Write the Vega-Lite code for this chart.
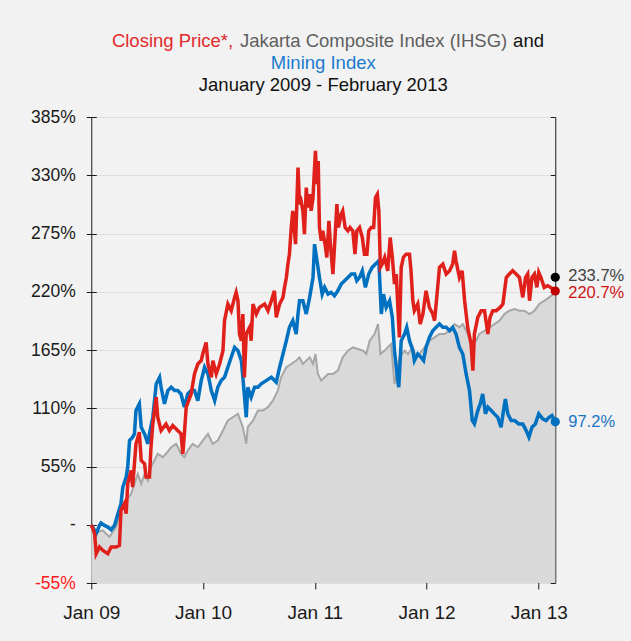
{
  "$schema": "https://vega.github.io/schema/vega-lite/v6.json",
  "background": "#f2f2f2",
  "padding": {"left": 30, "top": 31, "right": 12, "bottom": 24},
  "config": {
    "font": "Liberation Sans",
    "view": {"stroke": null},
    "title": {"fontWeight": "normal", "fontSize": 18.5, "anchor": "middle"}
  },
  "datasets": {
    "series": [
      {"d":"2009-01-01","s":"Price","v":0},{"d":"2009-01-12","s":"Price","v":-8.5},{"d":"2009-01-17","s":"Price","v":-27.4},{"d":"2009-01-28","s":"Price","v":-21.0},{"d":"2009-02-08","s":"Price","v":-24.2},{"d":"2009-02-24","s":"Price","v":-27.4},{"d":"2009-03-07","s":"Price","v":-21.0},{"d":"2009-03-23","s":"Price","v":-21.0},{"d":"2009-04-03","s":"Price","v":-19.5},{"d":"2009-04-08","s":"Price","v":13.5},{"d":"2009-04-19","s":"Price","v":19.8},{"d":"2009-04-25","s":"Price","v":10.4},{"d":"2009-04-30","s":"Price","v":38.7},{"d":"2009-05-11","s":"Price","v":51.3},{"d":"2009-05-16","s":"Price","v":35.5},{"d":"2009-05-27","s":"Price","v":76.4},{"d":"2009-06-07","s":"Price","v":87.4},{"d":"2009-06-13","s":"Price","v":60.7},{"d":"2009-06-24","s":"Price","v":57.5},{"d":"2009-06-29","s":"Price","v":45.0},{"d":"2009-07-10","s":"Price","v":45.0},{"d":"2009-07-15","s":"Price","v":73.2},{"d":"2009-07-21","s":"Price","v":95.2},{"d":"2009-08-01","s":"Price","v":120.4},{"d":"2009-08-06","s":"Price","v":101.5},{"d":"2009-08-17","s":"Price","v":89.0},{"d":"2009-09-02","s":"Price","v":95.2},{"d":"2009-09-13","s":"Price","v":89.0},{"d":"2009-09-24","s":"Price","v":93.7},{"d":"2009-10-10","s":"Price","v":89.0},{"d":"2009-10-21","s":"Price","v":85.8},{"d":"2009-10-27","s":"Price","v":67.0},{"d":"2009-11-01","s":"Price","v":85.8},{"d":"2009-11-07","s":"Price","v":111.0},{"d":"2009-11-23","s":"Price","v":123.5},{"d":"2009-12-04","s":"Price","v":142.4},{"d":"2009-12-15","s":"Price","v":151.8},{"d":"2009-12-26","s":"Price","v":155.0},{"d":"2009-12-31","s":"Price","v":161.2},
      {"d":"2010-01-11","s":"Price","v":172.2},{"d":"2010-01-17","s":"Price","v":151.8},{"d":"2010-01-28","s":"Price","v":139.2},{"d":"2010-02-02","s":"Price","v":155.0},{"d":"2010-02-13","s":"Price","v":142.4},{"d":"2010-02-24","s":"Price","v":151.8},{"d":"2010-03-07","s":"Price","v":164.4},{"d":"2010-03-12","s":"Price","v":192.7},{"d":"2010-03-23","s":"Price","v":208.4},{"d":"2010-04-03","s":"Price","v":202.1},{"d":"2010-04-14","s":"Price","v":214.7},{"d":"2010-04-19","s":"Price","v":219.4},{"d":"2010-04-25","s":"Price","v":211.5},{"d":"2010-04-30","s":"Price","v":180.1},{"d":"2010-05-06","s":"Price","v":173.8},{"d":"2010-05-11","s":"Price","v":199.0},{"d":"2010-05-16","s":"Price","v":139.2},{"d":"2010-05-22","s":"Price","v":180.1},{"d":"2010-06-02","s":"Price","v":186.4},{"d":"2010-06-07","s":"Price","v":173.8},{"d":"2010-06-13","s":"Price","v":208.4},{"d":"2010-06-24","s":"Price","v":199.0},{"d":"2010-07-04","s":"Price","v":205.2},{"d":"2010-07-21","s":"Price","v":208.4},{"d":"2010-08-01","s":"Price","v":202.1},{"d":"2010-08-12","s":"Price","v":211.5},{"d":"2010-08-22","s":"Price","v":220.9},{"d":"2010-08-28","s":"Price","v":195.8},{"d":"2010-09-08","s":"Price","v":208.4},{"d":"2010-09-19","s":"Price","v":214.7},{"d":"2010-09-24","s":"Price","v":224.1},{"d":"2010-09-30","s":"Price","v":233.5},{"d":"2010-10-05","s":"Price","v":246.1},{"d":"2010-10-10","s":"Price","v":255.5},{"d":"2010-10-16","s":"Price","v":280.7},{"d":"2010-10-21","s":"Price","v":296.4},{"d":"2010-10-30","s":"Price","v":265.0},{"d":"2010-11-07","s":"Price","v":337.2},{"d":"2010-11-12","s":"Price","v":302.7},{"d":"2010-11-17","s":"Price","v":305.8},{"d":"2010-11-23","s":"Price","v":296.4},{"d":"2010-11-28","s":"Price","v":274.4},{"d":"2010-12-04","s":"Price","v":318.4},{"d":"2010-12-09","s":"Price","v":299.5},{"d":"2010-12-15","s":"Price","v":312.1},{"d":"2010-12-20","s":"Price","v":296.4},{"d":"2010-12-26","s":"Price","v":309.0},{"d":"2010-12-31","s":"Price","v":337.2},
      {"d":"2011-01-03","s":"Price","v":353.0},{"d":"2011-01-08","s":"Price","v":321.5},{"d":"2011-01-12","s":"Price","v":343.5},{"d":"2011-01-16","s":"Price","v":280.7},{"d":"2011-01-22","s":"Price","v":268.1},{"d":"2011-01-27","s":"Price","v":277.5},{"d":"2011-02-05","s":"Price","v":261.8},{"d":"2011-02-09","s":"Price","v":252.4},{"d":"2011-02-16","s":"Price","v":286.9},{"d":"2011-02-20","s":"Price","v":268.1},{"d":"2011-03-01","s":"Price","v":236.7},{"d":"2011-03-06","s":"Price","v":261.8},{"d":"2011-03-14","s":"Price","v":302.7},{"d":"2011-03-19","s":"Price","v":280.7},{"d":"2011-03-28","s":"Price","v":293.2},{"d":"2011-04-02","s":"Price","v":296.4},{"d":"2011-04-10","s":"Price","v":280.7},{"d":"2011-04-19","s":"Price","v":277.5},{"d":"2011-04-26","s":"Price","v":280.7},{"d":"2011-05-05","s":"Price","v":277.5},{"d":"2011-05-12","s":"Price","v":255.5},{"d":"2011-05-18","s":"Price","v":277.5},{"d":"2011-05-27","s":"Price","v":280.7},{"d":"2011-06-05","s":"Price","v":271.2},{"d":"2011-06-12","s":"Price","v":255.5},{"d":"2011-06-20","s":"Price","v":255.5},{"d":"2011-06-26","s":"Price","v":277.5},{"d":"2011-07-04","s":"Price","v":280.7},{"d":"2011-07-12","s":"Price","v":280.7},{"d":"2011-07-18","s":"Price","v":309.0},{"d":"2011-07-24","s":"Price","v":312.1},{"d":"2011-07-29","s":"Price","v":296.4},{"d":"2011-08-03","s":"Price","v":243.0},{"d":"2011-08-09","s":"Price","v":246.1},{"d":"2011-08-17","s":"Price","v":252.4},{"d":"2011-08-27","s":"Price","v":239.8},{"d":"2011-09-04","s":"Price","v":271.2},{"d":"2011-09-11","s":"Price","v":252.4},{"d":"2011-09-18","s":"Price","v":227.2},{"d":"2011-09-24","s":"Price","v":236.7},{"d":"2011-09-29","s":"Price","v":205.2},{"d":"2011-10-04","s":"Price","v":176.9},{"d":"2011-10-10","s":"Price","v":243.0},{"d":"2011-10-17","s":"Price","v":252.4},{"d":"2011-10-26","s":"Price","v":255.5},{"d":"2011-11-06","s":"Price","v":255.5},{"d":"2011-11-11","s":"Price","v":239.8},{"d":"2011-11-17","s":"Price","v":211.5},{"d":"2011-11-22","s":"Price","v":202.1},{"d":"2011-12-03","s":"Price","v":208.4},{"d":"2011-12-11","s":"Price","v":189.5},{"d":"2011-12-20","s":"Price","v":199.0},{"d":"2011-12-30","s":"Price","v":220.9},
      {"d":"2012-01-10","s":"Price","v":205.2},{"d":"2012-01-21","s":"Price","v":199.0},{"d":"2012-01-27","s":"Price","v":192.7},{"d":"2012-02-06","s":"Price","v":224.1},{"d":"2012-02-12","s":"Price","v":243.0},{"d":"2012-02-23","s":"Price","v":246.1},{"d":"2012-03-05","s":"Price","v":236.7},{"d":"2012-03-16","s":"Price","v":239.8},{"d":"2012-03-26","s":"Price","v":246.1},{"d":"2012-04-01","s":"Price","v":258.7},{"d":"2012-04-06","s":"Price","v":249.2},{"d":"2012-04-17","s":"Price","v":233.5},{"d":"2012-04-26","s":"Price","v":239.8},{"d":"2012-05-04","s":"Price","v":211.5},{"d":"2012-05-14","s":"Price","v":186.4},{"d":"2012-05-25","s":"Price","v":170.7},{"d":"2012-05-31","s":"Price","v":145.5},{"d":"2012-06-05","s":"Price","v":180.1},{"d":"2012-06-16","s":"Price","v":195.8},{"d":"2012-06-27","s":"Price","v":202.1},{"d":"2012-07-08","s":"Price","v":202.1},{"d":"2012-07-19","s":"Price","v":180.1},{"d":"2012-07-26","s":"Price","v":195.8},{"d":"2012-08-04","s":"Price","v":202.1},{"d":"2012-08-15","s":"Price","v":202.1},{"d":"2012-08-28","s":"Price","v":205.2},{"d":"2012-09-06","s":"Price","v":208.4},{"d":"2012-09-17","s":"Price","v":233.5},{"d":"2012-09-27","s":"Price","v":236.7},{"d":"2012-10-08","s":"Price","v":239.8},{"d":"2012-10-19","s":"Price","v":236.7},{"d":"2012-10-30","s":"Price","v":233.5},{"d":"2012-11-10","s":"Price","v":214.7},{"d":"2012-11-19","s":"Price","v":233.5},{"d":"2012-11-26","s":"Price","v":236.7},{"d":"2012-12-02","s":"Price","v":211.5},{"d":"2012-12-10","s":"Price","v":233.5},{"d":"2012-12-18","s":"Price","v":236.7},{"d":"2012-12-26","s":"Price","v":224.1},{"d":"2013-01-01","s":"Price","v":238.2},{"d":"2013-01-08","s":"Price","v":233.5},{"d":"2013-01-19","s":"Price","v":224.1},{"d":"2013-01-30","s":"Price","v":225.7},{"d":"2013-02-09","s":"Price","v":224.1},{"d":"2013-02-24","s":"Price","v":220.7},

      {"d":"2009-01-01","s":"Mining","v":0},{"d":"2009-01-17","s":"Mining","v":-8.5},{"d":"2009-01-28","s":"Mining","v":-0.6},{"d":"2009-02-02","s":"Mining","v":1.6},{"d":"2009-02-13","s":"Mining","v":-0.6},{"d":"2009-02-24","s":"Mining","v":-2.2},{"d":"2009-03-07","s":"Mining","v":-4.7},{"d":"2009-03-18","s":"Mining","v":-0.6},{"d":"2009-03-29","s":"Mining","v":10.4},{"d":"2009-04-08","s":"Mining","v":19.8},{"d":"2009-04-14","s":"Mining","v":35.5},{"d":"2009-04-25","s":"Mining","v":45.0},{"d":"2009-04-30","s":"Mining","v":54.4},{"d":"2009-05-06","s":"Mining","v":79.5},{"d":"2009-05-16","s":"Mining","v":82.7},{"d":"2009-05-22","s":"Mining","v":85.8},{"d":"2009-05-27","s":"Mining","v":107.8},{"d":"2009-06-07","s":"Mining","v":114.1},{"d":"2009-06-13","s":"Mining","v":92.1},{"d":"2009-06-24","s":"Mining","v":85.8},{"d":"2009-07-05","s":"Mining","v":76.4},{"d":"2009-07-10","s":"Mining","v":85.8},{"d":"2009-07-21","s":"Mining","v":101.5},{"d":"2009-08-01","s":"Mining","v":133.0},{"d":"2009-08-12","s":"Mining","v":139.2},{"d":"2009-08-17","s":"Mining","v":129.8},{"d":"2009-08-28","s":"Mining","v":114.1},{"d":"2009-09-08","s":"Mining","v":126.7},{"d":"2009-09-19","s":"Mining","v":129.8},{"d":"2009-09-30","s":"Mining","v":126.7},{"d":"2009-10-10","s":"Mining","v":126.7},{"d":"2009-10-21","s":"Mining","v":123.5},{"d":"2009-11-01","s":"Mining","v":111.0},{"d":"2009-11-12","s":"Mining","v":123.5},{"d":"2009-11-23","s":"Mining","v":126.7},{"d":"2009-12-04","s":"Mining","v":126.7},{"d":"2009-12-15","s":"Mining","v":117.2},{"d":"2009-12-26","s":"Mining","v":136.1},
      {"d":"2010-01-06","s":"Mining","v":148.7},{"d":"2010-01-17","s":"Mining","v":142.4},{"d":"2010-01-28","s":"Mining","v":126.7},{"d":"2010-02-08","s":"Mining","v":117.2},{"d":"2010-02-18","s":"Mining","v":129.8},{"d":"2010-03-01","s":"Mining","v":136.1},{"d":"2010-03-12","s":"Mining","v":139.2},{"d":"2010-03-23","s":"Mining","v":148.7},{"d":"2010-04-03","s":"Mining","v":158.1},{"d":"2010-04-14","s":"Mining","v":167.5},{"d":"2010-04-25","s":"Mining","v":164.4},{"d":"2010-05-06","s":"Mining","v":155.0},{"d":"2010-05-11","s":"Mining","v":139.2},{"d":"2010-05-22","s":"Mining","v":101.5},{"d":"2010-05-27","s":"Mining","v":129.8},{"d":"2010-06-07","s":"Mining","v":120.4},{"d":"2010-06-18","s":"Mining","v":129.8},{"d":"2010-06-29","s":"Mining","v":129.8},{"d":"2010-07-10","s":"Mining","v":133.0},{"d":"2010-07-26","s":"Mining","v":136.1},{"d":"2010-08-12","s":"Mining","v":139.2},{"d":"2010-08-28","s":"Mining","v":134.5},{"d":"2010-09-08","s":"Mining","v":148.7},{"d":"2010-09-19","s":"Mining","v":161.2},{"d":"2010-09-30","s":"Mining","v":173.8},{"d":"2010-10-10","s":"Mining","v":186.4},{"d":"2010-10-21","s":"Mining","v":192.7},{"d":"2010-11-01","s":"Mining","v":180.1},{"d":"2010-11-07","s":"Mining","v":199.0},{"d":"2010-11-12","s":"Mining","v":211.5},{"d":"2010-11-23","s":"Mining","v":211.5},{"d":"2010-12-04","s":"Mining","v":199.0},{"d":"2010-12-15","s":"Mining","v":214.7},{"d":"2010-12-26","s":"Mining","v":233.5},{"d":"2010-12-31","s":"Mining","v":264.9},
      {"d":"2011-01-08","s":"Mining","v":249.2},{"d":"2011-01-16","s":"Mining","v":233.5},{"d":"2011-01-25","s":"Mining","v":217.8},{"d":"2011-02-02","s":"Mining","v":224.1},{"d":"2011-02-13","s":"Mining","v":217.8},{"d":"2011-02-23","s":"Mining","v":219.4},{"d":"2011-03-06","s":"Mining","v":216.2},{"d":"2011-03-17","s":"Mining","v":220.9},{"d":"2011-03-28","s":"Mining","v":227.2},{"d":"2011-04-08","s":"Mining","v":230.4},{"d":"2011-04-19","s":"Mining","v":233.5},{"d":"2011-04-30","s":"Mining","v":236.7},{"d":"2011-05-11","s":"Mining","v":236.7},{"d":"2011-05-18","s":"Mining","v":230.4},{"d":"2011-05-27","s":"Mining","v":233.5},{"d":"2011-06-05","s":"Mining","v":239.8},{"d":"2011-06-15","s":"Mining","v":224.1},{"d":"2011-06-26","s":"Mining","v":236.7},{"d":"2011-07-07","s":"Mining","v":243.0},{"d":"2011-07-18","s":"Mining","v":246.1},{"d":"2011-07-29","s":"Mining","v":249.2},{"d":"2011-08-06","s":"Mining","v":199.0},{"d":"2011-08-13","s":"Mining","v":217.8},{"d":"2011-08-22","s":"Mining","v":205.2},{"d":"2011-09-02","s":"Mining","v":211.5},{"d":"2011-09-11","s":"Mining","v":195.8},{"d":"2011-09-18","s":"Mining","v":164.4},{"d":"2011-09-26","s":"Mining","v":142.4},{"d":"2011-10-02","s":"Mining","v":129.8},{"d":"2011-10-10","s":"Mining","v":173.8},{"d":"2011-10-21","s":"Mining","v":180.1},{"d":"2011-10-28","s":"Mining","v":186.4},{"d":"2011-11-06","s":"Mining","v":173.8},{"d":"2011-11-17","s":"Mining","v":164.4},{"d":"2011-11-22","s":"Mining","v":155.0},{"d":"2011-12-03","s":"Mining","v":161.2},{"d":"2011-12-14","s":"Mining","v":158.1},{"d":"2011-12-22","s":"Mining","v":155.0},{"d":"2011-12-30","s":"Mining","v":167.5},
      {"d":"2012-01-10","s":"Mining","v":176.9},{"d":"2012-01-21","s":"Mining","v":183.2},{"d":"2012-02-01","s":"Mining","v":186.4},{"d":"2012-02-12","s":"Mining","v":189.5},{"d":"2012-02-23","s":"Mining","v":186.4},{"d":"2012-03-05","s":"Mining","v":186.4},{"d":"2012-03-16","s":"Mining","v":183.2},{"d":"2012-03-26","s":"Mining","v":186.4},{"d":"2012-04-06","s":"Mining","v":180.1},{"d":"2012-04-17","s":"Mining","v":167.5},{"d":"2012-04-28","s":"Mining","v":161.2},{"d":"2012-05-09","s":"Mining","v":142.4},{"d":"2012-05-20","s":"Mining","v":126.7},{"d":"2012-05-29","s":"Mining","v":98.4},{"d":"2012-06-05","s":"Mining","v":95.2},{"d":"2012-06-16","s":"Mining","v":107.8},{"d":"2012-06-24","s":"Mining","v":114.1},{"d":"2012-07-02","s":"Mining","v":123.5},{"d":"2012-07-11","s":"Mining","v":104.7},{"d":"2012-07-19","s":"Mining","v":111.0},{"d":"2012-07-30","s":"Mining","v":107.8},{"d":"2012-08-09","s":"Mining","v":104.7},{"d":"2012-08-20","s":"Mining","v":101.5},{"d":"2012-08-31","s":"Mining","v":92.1},{"d":"2012-09-08","s":"Mining","v":107.8},{"d":"2012-09-14","s":"Mining","v":118.8},{"d":"2012-09-22","s":"Mining","v":104.7},{"d":"2012-10-03","s":"Mining","v":98.4},{"d":"2012-10-14","s":"Mining","v":98.4},{"d":"2012-10-28","s":"Mining","v":95.2},{"d":"2012-11-10","s":"Mining","v":95.2},{"d":"2012-11-21","s":"Mining","v":88.9},{"d":"2012-11-30","s":"Mining","v":82.7},{"d":"2012-12-10","s":"Mining","v":92.1},{"d":"2012-12-21","s":"Mining","v":95.2},{"d":"2013-01-01","s":"Mining","v":104.7},{"d":"2013-01-14","s":"Mining","v":100.0},{"d":"2013-01-25","s":"Mining","v":98.4},{"d":"2013-02-04","s":"Mining","v":101.5},{"d":"2013-02-13","s":"Mining","v":103.1},{"d":"2013-02-24","s":"Mining","v":97.2},

      {"d":"2009-01-01","s":"IHSG","v":0},{"d":"2009-01-22","s":"IHSG","v":-6.9},{"d":"2009-02-08","s":"IHSG","v":-5.3},{"d":"2009-03-01","s":"IHSG","v":-11.6},{"d":"2009-03-12","s":"IHSG","v":-6.9},{"d":"2009-03-23","s":"IHSG","v":-2.2},{"d":"2009-04-08","s":"IHSG","v":13.5},{"d":"2009-04-25","s":"IHSG","v":22.9},{"d":"2009-05-11","s":"IHSG","v":29.2},{"d":"2009-05-22","s":"IHSG","v":38.7},{"d":"2009-06-02","s":"IHSG","v":48.1},{"d":"2009-06-13","s":"IHSG","v":38.7},{"d":"2009-06-24","s":"IHSG","v":48.1},{"d":"2009-07-05","s":"IHSG","v":41.8},{"d":"2009-07-15","s":"IHSG","v":54.4},{"d":"2009-07-26","s":"IHSG","v":60.7},{"d":"2009-08-06","s":"IHSG","v":67.0},{"d":"2009-08-22","s":"IHSG","v":63.8},{"d":"2009-09-02","s":"IHSG","v":67.0},{"d":"2009-09-19","s":"IHSG","v":73.2},{"d":"2009-10-05","s":"IHSG","v":76.4},{"d":"2009-10-21","s":"IHSG","v":67.0},{"d":"2009-11-01","s":"IHSG","v":63.8},{"d":"2009-11-12","s":"IHSG","v":70.1},{"d":"2009-11-28","s":"IHSG","v":76.4},{"d":"2009-12-15","s":"IHSG","v":73.2},{"d":"2009-12-31","s":"IHSG","v":79.5},
      {"d":"2010-01-17","s":"IHSG","v":85.8},{"d":"2010-02-02","s":"IHSG","v":76.4},{"d":"2010-02-18","s":"IHSG","v":79.5},{"d":"2010-03-07","s":"IHSG","v":89.0},{"d":"2010-03-23","s":"IHSG","v":98.4},{"d":"2010-04-08","s":"IHSG","v":101.5},{"d":"2010-04-25","s":"IHSG","v":104.7},{"d":"2010-05-11","s":"IHSG","v":92.1},{"d":"2010-05-22","s":"IHSG","v":76.4},{"d":"2010-05-27","s":"IHSG","v":92.1},{"d":"2010-06-13","s":"IHSG","v":98.4},{"d":"2010-06-29","s":"IHSG","v":107.8},{"d":"2010-07-15","s":"IHSG","v":107.8},{"d":"2010-08-01","s":"IHSG","v":111.0},{"d":"2010-08-17","s":"IHSG","v":117.2},{"d":"2010-09-02","s":"IHSG","v":126.7},{"d":"2010-09-13","s":"IHSG","v":139.2},{"d":"2010-09-30","s":"IHSG","v":148.7},{"d":"2010-10-16","s":"IHSG","v":151.8},{"d":"2010-11-01","s":"IHSG","v":155.0},{"d":"2010-11-12","s":"IHSG","v":158.1},{"d":"2010-11-23","s":"IHSG","v":151.8},{"d":"2010-12-04","s":"IHSG","v":155.0},{"d":"2010-12-15","s":"IHSG","v":158.1},{"d":"2010-12-26","s":"IHSG","v":151.8},
      {"d":"2011-01-03","s":"IHSG","v":161.2},{"d":"2011-01-11","s":"IHSG","v":142.4},{"d":"2011-01-22","s":"IHSG","v":136.1},{"d":"2011-02-02","s":"IHSG","v":139.2},{"d":"2011-02-13","s":"IHSG","v":142.4},{"d":"2011-03-01","s":"IHSG","v":142.4},{"d":"2011-03-17","s":"IHSG","v":145.5},{"d":"2011-04-02","s":"IHSG","v":158.1},{"d":"2011-04-19","s":"IHSG","v":164.4},{"d":"2011-05-05","s":"IHSG","v":167.5},{"d":"2011-05-21","s":"IHSG","v":166.0},{"d":"2011-06-07","s":"IHSG","v":164.4},{"d":"2011-06-18","s":"IHSG","v":161.2},{"d":"2011-06-29","s":"IHSG","v":173.8},{"d":"2011-07-15","s":"IHSG","v":180.1},{"d":"2011-07-26","s":"IHSG","v":189.5},{"d":"2011-07-31","s":"IHSG","v":173.8},{"d":"2011-08-03","s":"IHSG","v":161.2},{"d":"2011-08-17","s":"IHSG","v":164.4},{"d":"2011-08-27","s":"IHSG","v":167.5},{"d":"2011-09-07","s":"IHSG","v":170.7},{"d":"2011-09-18","s":"IHSG","v":133.0},{"d":"2011-09-26","s":"IHSG","v":142.4},{"d":"2011-10-04","s":"IHSG","v":158.1},{"d":"2011-10-21","s":"IHSG","v":164.4},{"d":"2011-11-01","s":"IHSG","v":161.2},{"d":"2011-11-17","s":"IHSG","v":167.5},{"d":"2011-11-28","s":"IHSG","v":158.1},{"d":"2011-12-09","s":"IHSG","v":161.2},{"d":"2011-12-25","s":"IHSG","v":167.5},
      {"d":"2012-01-10","s":"IHSG","v":173.8},{"d":"2012-01-27","s":"IHSG","v":176.9},{"d":"2012-02-12","s":"IHSG","v":180.1},{"d":"2012-02-28","s":"IHSG","v":180.1},{"d":"2012-03-16","s":"IHSG","v":183.2},{"d":"2012-04-01","s":"IHSG","v":189.5},{"d":"2012-04-17","s":"IHSG","v":186.4},{"d":"2012-04-28","s":"IHSG","v":189.5},{"d":"2012-05-09","s":"IHSG","v":183.2},{"d":"2012-05-25","s":"IHSG","v":173.8},{"d":"2012-06-11","s":"IHSG","v":173.8},{"d":"2012-06-21","s":"IHSG","v":180.1},{"d":"2012-07-08","s":"IHSG","v":183.2},{"d":"2012-07-24","s":"IHSG","v":186.4},{"d":"2012-08-09","s":"IHSG","v":189.5},{"d":"2012-08-26","s":"IHSG","v":192.7},{"d":"2012-09-11","s":"IHSG","v":198.9},{"d":"2012-09-27","s":"IHSG","v":202.1},{"d":"2012-10-14","s":"IHSG","v":203.7},{"d":"2012-10-30","s":"IHSG","v":202.1},{"d":"2012-11-15","s":"IHSG","v":202.1},{"d":"2012-12-02","s":"IHSG","v":198.9},{"d":"2012-12-18","s":"IHSG","v":202.1},{"d":"2013-01-03","s":"IHSG","v":208.4},{"d":"2013-01-19","s":"IHSG","v":211.5},{"d":"2013-02-04","s":"IHSG","v":214.7},{"d":"2013-02-24","s":"IHSG","v":219.4}
    ],
    "ends": [
      {"d":"2013-02-24","s":"IHSG","v":233.7,"lbl":"233.7%"},
      {"d":"2013-02-24","s":"Price","v":220.7,"lbl":"220.7%"},
      {"d":"2013-02-24","s":"Mining","v":97.2,"lbl":"97.2%"}
    ]
  },
  "spacing": 2,
  "center": true,
  "vconcat": [
    {
      "spacing": 5,
      "hconcat": [
        {"width": 1, "height": 1, "data": {"values": []}, "mark": "point", "title": {"text": "Closing Price*,", "color": "#e4292b", "offset": 0}},
        {"width": 1, "height": 1, "data": {"values": []}, "mark": "point", "title": {"text": "Jakarta Composite Index (IHSG)", "color": "#5f5f5f", "offset": 0}},
        {"width": 1, "height": 1, "data": {"values": []}, "mark": "point", "title": {"text": "and", "color": "#111111", "offset": 0}}
      ]
    },
    {
      "width": 464,
      "height": 466,
      "view": {"stroke": "#1a1a1a", "strokeWidth": 1},
      "title": {"text": "Mining Index", "subtitle": "January 2009 - February 2013", "color": "#1b7bcf", "subtitleColor": "#111111", "subtitleFontSize": 18.5, "subtitleFont": "Liberation Sans", "subtitlePadding": 3.5, "offset": 14, "frame": "group"},
      "resolve": {"scale": {"y": "independent"}, "axis": {"y": "independent"}},
      "layer": [
        {
          "data": {"name": "series"},
          "encoding": {
            "x": {"field": "d", "type": "temporal", "title": null,
              "scale": {"type": "utc", "domain": [{"year": 2009, "month": 1, "date": 1, "utc": true}, {"year": 2013, "month": 2, "date": 24, "utc": true}]},
              "axis": {"values": [{"year": 2009, "month": 1, "date": 1, "utc": true}, {"year": 2010, "month": 1, "date": 1, "utc": true}, {"year": 2011, "month": 1, "date": 1, "utc": true}, {"year": 2012, "month": 1, "date": 1, "utc": true}, {"year": 2013, "month": 1, "date": 1, "utc": true}],
                "format": "Jan %y", "labelFontSize": 19, "labelColor": "#1a1a1a", "labelPadding": 14, "tickSize": 12, "offset": -6, "tickColor": "#1a1a1a", "domain": false, "grid": false, "labelFlush": false}},
            "y": {"field": "v", "type": "quantitative", "title": null,
              "scale": {"domain": [-55, 385], "nice": false, "zero": false},
              "axis": {"values": [-55, 0, 55, 110, 165, 220, 275, 330, 385],
                "labelExpr": "datum.value == 0 ? '-' : datum.value + '%'",
                "labelFontSize": 17.5,
                "labelColor": {"condition": {"test": "datum.value < 0", "value": "#ff1a1a"}, "value": "#1a1a1a"},
                "labelPadding": 11, "tickSize": 10, "offset": -5, "tickColor": "#1a1a1a", "domain": false,
                "grid": true, "gridColor": "#dedede", "labelFlush": false}}
          },
          "layer": [
            {"transform": [{"filter": {"field": "s", "equal": "IHSG"}}], "mark": {"type": "area", "color": "#d9d9d9"}, "encoding": {"y2": {"datum": -55}}},
            {"transform": [{"filter": {"field": "s", "equal": "IHSG"}}], "mark": {"type": "line", "color": "#a6a6a6", "strokeWidth": 2}},
            {"transform": [{"filter": {"field": "s", "equal": "Mining"}}], "mark": {"type": "line", "color": "#0070c0", "strokeWidth": 3.5}},
            {"transform": [{"filter": {"field": "s", "equal": "Price"}}], "mark": {"type": "line", "color": "#e0201b", "strokeWidth": 3.5}}
          ]
        },
        {
          "data": {"name": "ends"},
          "encoding": {
            "x": {"field": "d", "type": "temporal", "title": null,
              "scale": {"type": "utc", "domain": [{"year": 2009, "month": 1, "date": 1, "utc": true}, {"year": 2013, "month": 2, "date": 24, "utc": true}]}},
            "y": {"field": "v", "type": "quantitative", "title": null,
              "scale": {"domain": [-55, 385], "nice": false, "zero": false},
              "axis": {"orient": "right", "values": [-55, 0, 55, 110, 165, 220, 275, 330, 385], "labels": false, "tickSize": 5, "offset": -5, "tickColor": "#1a1a1a", "domain": false, "grid": false}},
            "color": {"field": "s", "type": "nominal", "scale": {"domain": ["IHSG", "Price", "Mining"], "range": ["#404040", "#cc1414", "#1a75c4"]}, "legend": null}
          },
          "layer": [
            {"mark": {"type": "circle", "size": 85, "opacity": 1},
             "encoding": {"color": null, "fill": {"field": "s", "type": "nominal", "scale": {"domain": ["IHSG", "Price", "Mining"], "range": ["#000000", "#c00000", "#0070c0"]}, "legend": null}}},
            {"transform": [{"filter": {"field": "s", "equal": "IHSG"}}],
             "mark": {"type": "text", "align": "left", "dx": 13, "dy": -1.5, "baseline": "middle", "fontSize": 16.5},
             "encoding": {"text": {"field": "lbl"}}},
            {"transform": [{"filter": {"field": "s", "equal": "Price"}}],
             "mark": {"type": "text", "align": "left", "dx": 13, "dy": 2, "baseline": "middle", "fontSize": 16.5},
             "encoding": {"text": {"field": "lbl"}}},
            {"transform": [{"filter": {"field": "s", "equal": "Mining"}}],
             "mark": {"type": "text", "align": "left", "dx": 13, "baseline": "middle", "fontSize": 16.5},
             "encoding": {"text": {"field": "lbl"}}}
          ]
        }
      ]
    }
  ]
}
